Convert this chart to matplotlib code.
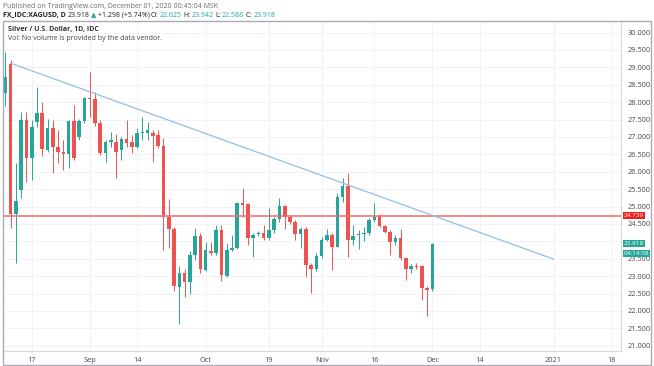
import numpy as np
import pandas as pd
import matplotlib
matplotlib.use('Agg')
import matplotlib.pyplot as plt
from matplotlib.transforms import IdentityTransform
from matplotlib.patches import Rectangle

plt.rcParams['font.family'] = ['Open Sans', 'DejaVu Sans']

# daily bars, Aug 10 2020 .. Dec 01 2020 (weekdays)
first_day = '2020-08-10'
opens = [28.26, 29.10, 24.79, 25.48, 27.49, 26.39, 27.44, 27.68, 26.63, 27.25,
         26.72, 26.58, 26.52, 27.46, 26.99, 27.46, 28.11, 28.08, 27.41, 26.53,
         26.87, 26.87, 26.63, 26.94, 26.85, 26.71, 27.11, 27.11, 27.12, 27.06,
         26.75, 24.69, 24.35, 22.70, 23.08, 22.82, 23.61, 24.16, 23.18, 23.72,
         23.66, 24.33, 23.00, 23.75, 23.80, 25.09, 25.06, 24.09, 24.20, 24.25,
         24.09, 24.33, 24.64, 25.02, 24.69, 24.57, 24.22, 24.35, 23.32, 23.20,
         23.58, 24.04, 24.18, 23.85, 25.28, 25.59, 24.04, 24.18, 24.20, 24.23,
         24.61, 24.72, 24.44, 24.28, 23.99, 24.11, 23.51, 23.20, 23.30, 23.30,
         22.66, 22.625]
highs = [29.45, 29.20, 26.24, 27.73, 27.73, 27.49, 28.45, 28.01, 27.53, 27.49,
         27.20, 26.91, 27.50, 27.92, 27.53, 28.16, 28.88, 28.30, 27.49, 26.91,
         27.15, 27.10, 27.01, 27.49, 27.06, 27.25, 27.58, 27.44, 27.20, 27.20,
         26.96, 25.21, 24.40, 23.30, 23.22, 23.71, 24.38, 24.25, 23.99, 23.99,
         24.48, 24.48, 23.94, 24.18, 25.14, 25.52, 25.10, 24.23, 24.30, 24.48,
         24.95, 24.71, 25.26, 25.05, 24.76, 24.62, 24.42, 24.42, 23.37, 23.66,
         24.12, 24.37, 24.23, 25.38, 25.81, 25.97, 24.47, 24.34, 24.42, 24.66,
         25.09, 24.80, 24.47, 24.33, 24.18, 24.37, 23.56, 23.36, 23.37, 23.33,
         22.71, 23.942]
lows = [27.90, 24.38, 23.37, 25.24, 25.72, 25.76, 27.30, 26.44, 26.58, 25.96,
        26.24, 26.05, 26.10, 26.35, 26.90, 27.40, 27.58, 27.32, 26.49, 26.29,
        26.72, 25.81, 26.34, 26.72, 26.53, 26.68, 26.90, 26.91, 26.29, 26.68,
        23.75, 23.80, 22.56, 21.63, 22.41, 22.49, 23.47, 23.10, 23.14, 23.62,
        23.62, 22.87, 22.98, 23.72, 23.78, 24.70, 23.90, 23.56, 24.15, 24.04,
        24.05, 24.25, 24.57, 24.35, 24.50, 24.04, 23.80, 22.99, 22.51, 23.14,
        23.52, 24.00, 23.18, 23.83, 25.14, 23.56, 23.89, 23.78, 24.00, 24.18,
        24.56, 24.40, 24.23, 23.61, 23.89, 23.46, 22.89, 23.08, 23.22, 22.32,
        21.87, 22.588]
closes = [28.73, 24.79, 25.17, 27.49, 26.39, 27.30, 27.68, 26.65, 27.25, 26.72,
          26.58, 26.52, 27.46, 26.39, 27.46, 28.11, 28.08, 27.41, 26.53, 26.87,
          26.90, 26.58, 26.94, 26.84, 26.71, 27.11, 27.13, 27.20, 27.03, 26.75,
          24.69, 24.35, 22.72, 23.10, 22.82, 23.61, 24.16, 23.20, 23.75, 23.66,
          24.33, 23.02, 23.75, 23.81, 25.09, 25.04, 24.09, 24.19, 24.25, 24.09,
          24.33, 24.64, 25.02, 24.69, 24.57, 24.22, 24.35, 23.32, 23.20, 23.58,
          24.04, 24.18, 23.85, 25.28, 25.59, 24.04, 24.15, 24.21, 24.25, 24.61,
          24.69, 24.44, 24.28, 23.99, 24.11, 23.51, 23.20, 23.30, 23.26, 22.66,
          22.59, 23.918]

# drawings
hline_price = 24.739
trend_dates = ['2020-08-11', '2021-01-01']
trend_prices = [29.12, 23.49]

tick_dates = ['2020-08-17', '2020-09-01', '2020-09-14', '2020-10-01', '2020-10-19',
              '2020-11-02', '2020-11-16', '2020-12-01', '2020-12-14', '2021-01-01',
              '2021-01-18']
tick_labels = ['17', 'Sep', '14', 'Oct', '19', 'Nov', '16', 'Dec', '14', '2021', '18']
price_ticks = [21.0, 21.5, 22.0, 22.5, 23.0, 23.5, 24.0, 24.5, 25.0, 25.5, 26.0,
               26.5, 27.0, 27.5, 28.0, 28.5, 29.0, 29.5, 30.0]
# the 24.000 label sits under the last-price marker in the original
hidden_ticks = [24.0]

days = pd.bdate_range(first_day, '2021-02-05')
pos = {d.strftime('%Y-%m-%d'): i for i, d in enumerate(days)}
x = np.arange(len(closes))
o = np.array(opens); h = np.array(highs); l = np.array(lows); c = np.array(closes)

UP = '#26a69a'
DOWN = '#ef5350'
cols = np.where(c >= o, UP, DOWN)

W, H = 654, 366
fig = plt.figure(figsize=(W / 100, H / 100), dpi=100)
ax = fig.add_axes([4 / W, 15 / H, 617 / W, 330 / H])

ax.set_xlim(-0.26, 116.8)
ax.set_ylim(20.85, 30.333)

ax.vlines(x, l, h, colors=cols, linewidth=0.7, zorder=3)
body = np.maximum(np.abs(c - o), 0.02)
ax.bar(x, body, bottom=np.minimum(o, c), width=0.68, color=cols, linewidth=0, zorder=4)

ax.axhline(hline_price, color='#f26a6a', linewidth=1.1, zorder=5)
tx = [pos[d] for d in trend_dates]
ax.plot(tx, trend_prices, color='#8fbfe3', linewidth=0.9, zorder=5)

ax.set_xticks([pos[d] for d in tick_dates])
ax.set_xticklabels(tick_labels)
ax.set_yticks(price_ticks)
ax.set_yticklabels(['' if p in hidden_ticks else '%.3f' % p for p in price_ticks])
ax.yaxis.tick_right()
ax.tick_params(axis='y', length=0, pad=5, labelsize=5.3, colors='#4a4a4a')
ax.tick_params(axis='x', length=0, pad=4, labelsize=5.3, colors='#4a4a4a')
ax.grid(True, color='#f0f2f6', linewidth=0.7)
ax.set_axisbelow(True)
for s in ['top', 'left']:
    ax.spines[s].set_visible(False)
for s in ['right', 'bottom']:
    ax.spines[s].set_color('#d6d8dd')
    ax.spines[s].set_linewidth(0.8)

# outer panel border
fig.patches.append(Rectangle((3 / W, 1 / H), 648 / W, 344 / H, transform=fig.transFigure,
                             fill=False, edgecolor='#a9acb3', linewidth=1.0))

# price labels on the right axis
def axis_label(price, text, bg, dy=0):
    ax.annotate(text, xy=(1, price), xycoords=('axes fraction', 'data'),
                xytext=(2, dy), textcoords='offset points', ha='left', va='center',
                fontsize=4.6, color='white',
                bbox=dict(boxstyle='square,pad=0.12', fc=bg, ec='none'),
                annotation_clip=False, zorder=10)

axis_label(hline_price, '%.3f' % hline_price, '#f21d1d')
axis_label(closes[-1], '%.3f' % closes[-1], UP, dy=0.5)
axis_label(closes[-1], '04:14:58', UP, dy=-6.6)

# header lines
ident = IdentityTransform()
fig.text(3, H - 8, 'Published on TradingView.com, December 01, 2020 00:45:04 MSK',
         transform=ident, fontsize=5.0, color='#6b6b6b')

renderer = fig.canvas.get_renderer()
def pieces(xp, yp, parts, size):
    for s, colr, wt in parts:
        t = fig.text(xp, yp, s, transform=ident, fontsize=size, color=colr, fontweight=wt)
        xp = t.get_window_extent(renderer).x1 + 1.5
    return xp

pieces(3, H - 17, [
    ('FX_IDC:XAGUSD, D', '#222222', 'bold'),
    ('23.918', '#222222', 'normal'),
    ('\u25b2', UP, 'normal'),
    ('+1.298 (+5.74%)', '#222222', 'normal'),
    ('O:', '#222222', 'normal'), ('22.625', UP, 'normal'),
    ('H:', '#222222', 'normal'), ('23.942', UP, 'normal'),
    ('L:', '#222222', 'normal'), ('22.588', UP, 'normal'),
    ('C:', '#222222', 'normal'), ('23.918', UP, 'normal'),
], 5.0)

fig.text(8, H - 31, 'Silver / U.S. Dollar, 1D, IDC', transform=ident,
         fontsize=5.0, fontweight='bold', color='#333333')
fig.text(8, H - 40, 'Vol: No volume is provided by the data vendor.', transform=ident,
         fontsize=5.0, color='#444444')

fig.savefig('out.png', dpi=100)
plt.close(fig)
